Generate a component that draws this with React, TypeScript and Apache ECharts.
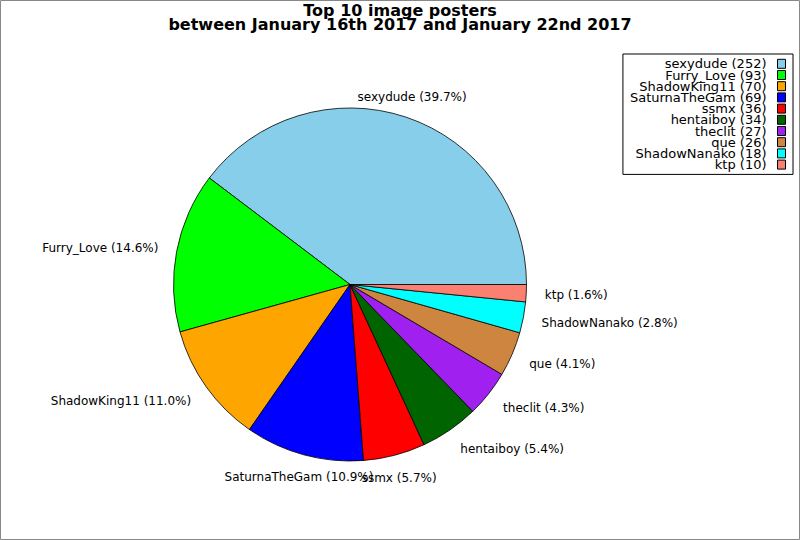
import React, { useEffect, useRef } from "react";
import * as echarts from "echarts";

const names = [
  "sexydude",
  "Furry_Love",
  "ShadowKing11",
  "SaturnaTheGam",
  "ssmx",
  "hentaiboy",
  "theclit",
  "que",
  "ShadowNanako",
  "ktp",
];
const values = [252, 93, 70, 69, 36, 34, 27, 26, 18, 10];
const colors = [
  "#87CEEB",
  "#00FF00",
  "#FFA500",
  "#0000FF",
  "#FF0000",
  "#006400",
  "#A020F0",
  "#CD853F",
  "#00FFFF",
  "#FA8072",
];
const titleLines = [
  "Top 10 image posters",
  "between January 16th 2017 and January 22nd 2017",
];

const FONT = "'DejaVu Sans', Verdana, sans-serif";

export default function App() {
  const ref = useRef<HTMLDivElement>(null);

  useEffect(() => {
    if (!ref.current) return;
    const chart = echarts.init(ref.current, undefined, { renderer: "svg" });
    const total = values.reduce((a, b) => a + b, 0);
    const valueByName: Record<string, number> = {};
    names.forEach((n, i) => (valueByName[n] = values[i]));

    const option: any = {
      animation: false,
      backgroundColor: "#ffffff",
      title: {
        text: titleLines.join("\n"),
        left: "center",
        top: 4,
        padding: 0,
        textStyle: {
          fontFamily: FONT,
          fontSize: 16,
          fontWeight: "bold",
          lineHeight: 13.5,
          color: "#000",
        },
      },
      legend: {
        orient: "vertical",
        right: 7,
        top: 54,
        align: "right",
        itemWidth: 8,
        itemHeight: 9,
        itemGap: -1.8,
        icon: "rect",
        padding: [3.3, 7, 3.3, 7],
        backgroundColor: "#ffffff",
        borderColor: "#000",
        borderWidth: 1,
        borderRadius: 0,
        selectedMode: false,
        itemStyle: { borderColor: "#000", borderWidth: 1 },
        textStyle: {
          fontFamily: FONT,
          fontSize: 13,
          lineHeight: 11.2,
          color: "#000",
          padding: [0, 6, 0, 0],
        },
        formatter: (n: string) => `${n} (${valueByName[n]})`,
        data: names,
      },
      graphic: [
        {
          type: "rect",
          shape: { x: 0.5, y: 0.5, width: 799, height: 539 },
          style: { fill: "none", stroke: "#888888", lineWidth: 1 },
          silent: true,
          z: 100,
        },
      ],
      series: [
        {
          type: "pie",
          center: [350, 284.5],
          radius: 176.5,
          startAngle: 0,
          clockwise: false,
          avoidLabelOverlap: false,
          emphasis: { disabled: true },
          itemStyle: { borderColor: "#000", borderWidth: 0.8 },
          label: {
            show: true,
            position: "outside",
            fontFamily: FONT,
            fontSize: 12,
            color: "#000",
            formatter: (p: any) =>
              `${p.name} (${((p.value / total) * 100).toFixed(1)}%)`,
          },
          labelLine: {
            show: true,
            length: 18.5,
            length2: 0,
            lineStyle: { opacity: 0, width: 0 },
          },
          labelLayout: (params: any) => {
            const pts = params.labelLinePoints;
            if (!pts || pts.length < 2) return {};
            const dx = pts[1][0] - pts[0][0];
            const dy = pts[1][1] - pts[0][1];
            const len = Math.sqrt(dx * dx + dy * dy) || 1;
            const ux = dx / len;
            const uy = dy / len;
            let align = "center";
            if (ux > 0.45) align = "left";
            else if (ux < -0.45) align = "right";
            return {
              x: pts[1][0],
              y: pts[1][1] + uy * 3.5 + 1,
              align,
              verticalAlign: "middle",
            };
          },
          data: names.map((n, i) => ({
            name: n,
            value: values[i],
            itemStyle: { color: colors[i] },
          })),
        },
      ],
    };
    chart.setOption(option);
    return () => chart.dispose();
  }, []);

  return (
    <div
      ref={ref}
      style={{ position: "absolute", left: 0, top: 0, width: 800, height: 540 }}
    />
  );
}
